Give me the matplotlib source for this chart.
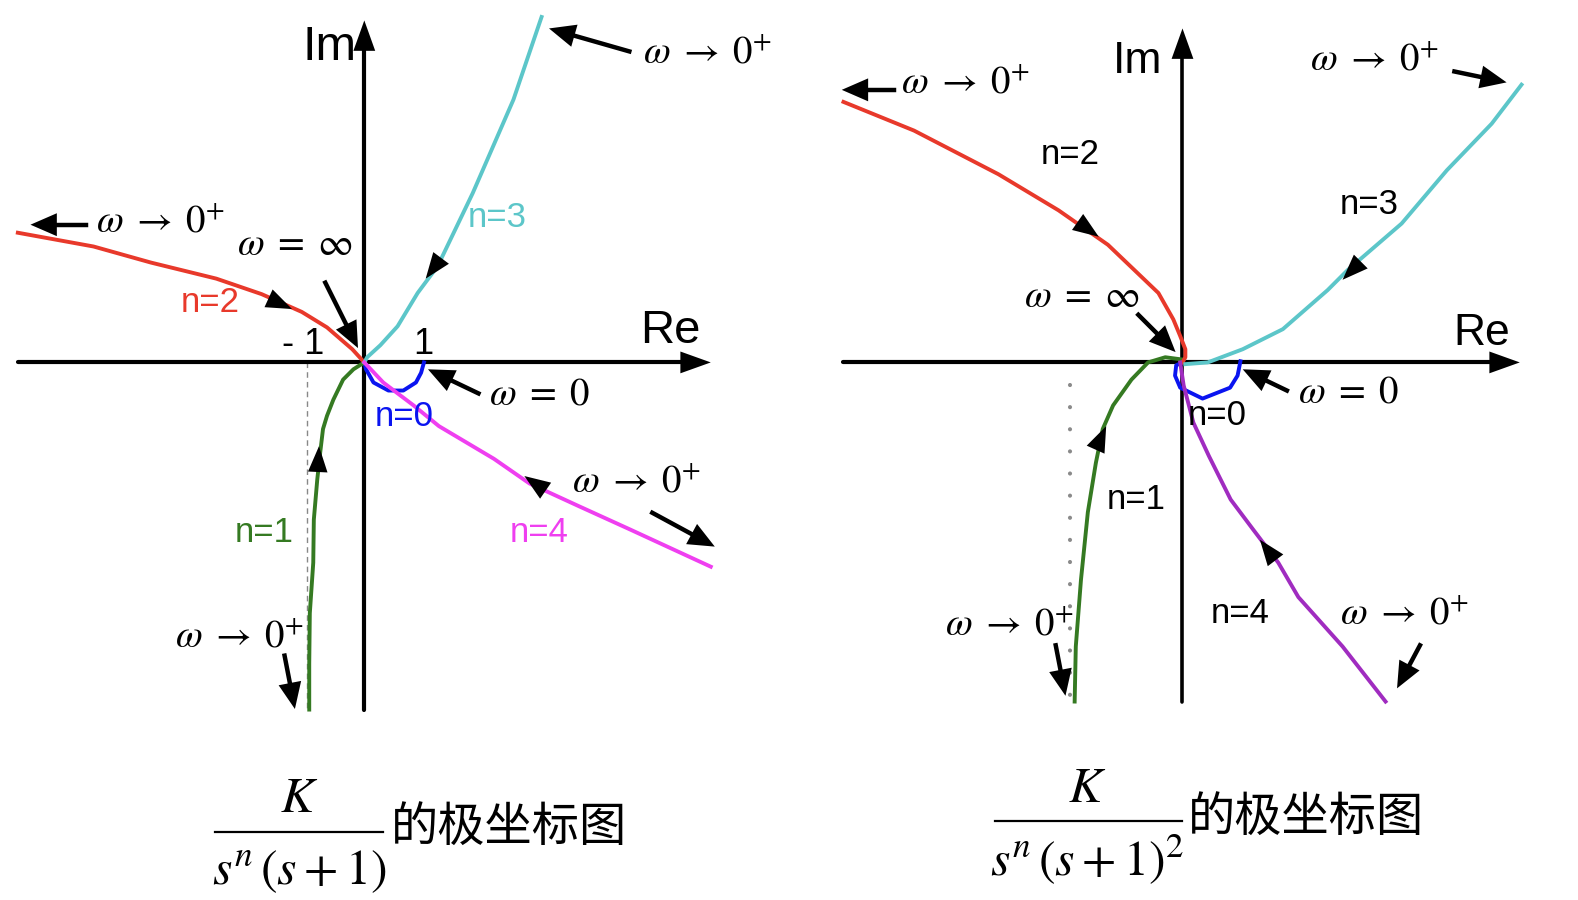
import matplotlib
matplotlib.use("Agg")
import matplotlib.pyplot as plt
from matplotlib.lines import Line2D
import numpy as np

plt.rcParams['mathtext.fontset'] = 'stix'
plt.rcParams['font.family'] = ['Liberation Sans', 'Noto Sans CJK SC', 'DejaVu Sans']

# Left panel: K / (s^n (s+1)), values in Re/Im units (1 unit = distance to "1")
l_n0_re = [0, 0.03, 0.16, 0.42, 0.68, 0.90, 0.99, 1.04]
l_n0_im = [0, -0.12, -0.35, -0.49, -0.49, -0.35, -0.18, 0]
l_n1_re = [0, -0.19, -0.37, -0.54, -0.65, -0.72, -0.77, -0.82, -0.88, -0.89, -0.95, -0.96, -0.96]
l_n1_im = [0, -0.12, -0.30, -0.65, -0.93, -1.16, -1.58, -2.04, -2.74, -3.49, -4.37, -5.25, -6.05]
l_n2_re = [-6.04, -4.72, -3.72, -2.58, -1.79, -1.09, -0.65, -0.21, 0]
l_n2_im = [2.26, 2.02, 1.74, 1.46, 1.19, 0.88, 0.61, 0.23, 0]
l_n3_re = [3.09, 2.60, 1.89, 1.28, 0.93, 0.58, 0.28, 0.05, 0]
l_n3_im = [6.02, 4.58, 2.95, 1.68, 1.21, 0.63, 0.30, 0.09, 0]
l_n4_re = [0, 0.33, 0.86, 1.30, 2.26, 2.88, 3.75, 4.63, 6.04]
l_n4_im = [0, -0.35, -0.75, -1.11, -1.68, -2.11, -2.51, -2.91, -3.56]
l_asym = -1.0

# Right panel: K / (s^n (s+1)^2)
r_n0_re = [0, -0.11, -0.13, -0.04, 0.35, 0.83, 0.96, 1.01]
r_n0_im = [0, -0.05, -0.23, -0.44, -0.63, -0.44, -0.23, 0.02]
r_n1_re = [0, -0.30, -0.60, -0.89, -1.21, -1.39, -1.51, -1.65, -1.77, -1.86, -1.88]
r_n1_im = [0.05, 0.09, 0, -0.30, -0.75, -1.16, -1.75, -2.61, -3.79, -4.95, -5.91]
r_n2_re = [-5.91, -4.68, -3.21, -2.16, -1.30, -0.42, -0.16, -0.04, 0.05, 0.05, 0]
r_n2_im = [4.54, 4.04, 3.28, 2.65, 2.05, 1.21, 0.75, 0.46, 0.23, 0.09, 0]
r_n3_re = [5.91, 5.39, 4.61, 3.82, 2.88, 2.53, 1.75, 1.05, 0.44, 0.05]
r_n3_im = [4.84, 4.16, 3.35, 2.42, 1.61, 1.26, 0.58, 0.23, 0, -0.03]
r_n4_re = [-0.04, 0.02, 0.19, 0.46, 0.84, 1.23, 1.67, 2.02, 2.79, 3.54]
r_n4_im = [0, -0.40, -1.05, -1.63, -2.39, -2.91, -3.49, -4.09, -4.95, -5.91]
r_asym = -1.96

RED, CYAN, BLUE, GREEN, MAGENTA, PURPLE = '#e8392b', '#5cc6c9', '#0a14f0', '#357a22', '#ef3ff0', '#a02cc0'
W, H = 1568, 894   # frame the layout was measured in
UNIT = 57.0        # pixels per Re/Im unit
LW = 2.8

fig = plt.figure(figsize=(15.78, 9.0), dpi=100)


def panel(x0, x1, ox, oy):
    ax = fig.add_axes([x0 / W, 1 - 720 / H, (x1 - x0) / W, 720 / H])
    ax.set_xlim((x0 - ox) / UNIT, (x1 - ox) / UNIT)
    ax.set_ylim((oy - 720) / UNIT, oy / UNIT)
    ax.axis('off')
    return ax


def head(ax, x, y, dx, dy, L=0.45, w=0.17):
    d = np.hypot(dx, dy)
    ux, uy = dx / d, dy / d
    bx, by = x - ux * L, y - uy * L
    ax.fill([x, bx - uy * w, bx + uy * w], [y, by + ux * w, by - ux * w],
            color='k', lw=0, zorder=6)


def pointer(ax, x0, y0, x1, y1, lw=3.2, L=0.46, w=0.2):
    d = np.hypot(x1 - x0, y1 - y0)
    bx, by = x1 - (x1 - x0) / d * L * 0.9, y1 - (y1 - y0) / d * L * 0.9
    ax.plot([x0, bx], [y0, by], color='k', lw=lw, zorder=6)
    head(ax, x1, y1, x1 - x0, y1 - y0, L, w)


def axes_arrows(ax, xlo, xhi, ylo, yhi, lwx=3, lwy=3):
    ax.plot([xlo, xhi - 0.4], [0, 0], color='k', lw=lwx, solid_capstyle='round', zorder=2)
    head(ax, xhi, 0, 1, 0, 0.53, 0.19)
    ax.plot([0, 0], [ylo, yhi - 0.4], color='k', lw=lwy, solid_capstyle='round', zorder=2)
    head(ax, 0, yhi, 0, 1, 0.53, 0.19)


W0 = r'$\omega\;\rightarrow\;0^{+}$'
WINF = r'$\omega\;=\;\infty$'
WZERO = r'$\omega\;=\;0$'

# ---------------- left ----------------
ax1 = panel(0, 784, 362, 360)
axes_arrows(ax1, -6.04, 6.04, -6.05, 5.96)
ax1.plot([l_asym, l_asym], [0, -6.05], color='#888888', lw=1, ls=(0, (4, 3)), zorder=1)
ax1.plot(l_n0_re, l_n0_im, color=BLUE, lw=LW, zorder=3)
ax1.plot(l_n1_re, l_n1_im, color=GREEN, lw=LW, zorder=3)
ax1.plot(l_n2_re, l_n2_im, color=RED, lw=LW, zorder=3)
ax1.plot(l_n3_re, l_n3_im, color=CYAN, lw=LW, zorder=3)
ax1.plot(l_n4_re, l_n4_im, color=MAGENTA, lw=LW, zorder=3)

head(ax1, -1.26, 0.93, 0.70, -0.32)
head(ax1, 1.07, 1.46, -0.35, -0.47)
head(ax1, 2.79, -1.98, -0.61, 0.42)
head(ax1, -0.79, -1.46, 0.02, 0.42)

pointer(ax1, -4.86, 2.40, -5.82, 2.40)
pointer(ax1, -0.68, 1.39, -0.11, 0.25)
pointer(ax1, 4.62, 5.42, 3.22, 5.82)
pointer(ax1, 1.99, -0.54, 1.11, -0.12)
pointer(ax1, 5.02, -2.62, 6.11, -3.21)
pointer(ax1, -1.39, -5.11, -1.21, -6.04)

ax1.text(-0.61, 5.49, 'Im', fontsize=35, ha='center', va='center')
ax1.text(5.33, 0.54, 'Re', fontsize=34, ha='center', va='center')
ax1.text(-1.07, 0.32, '- 1', fontsize=26, ha='center', va='center')
ax1.text(1.02, 0.32, '1', fontsize=26, ha='center', va='center')
ax1.text(-2.68, 1.05, 'n=2', fontsize=25, color=RED, ha='center', va='center')
ax1.text(2.32, 2.53, 'n=3', fontsize=25, color=CYAN, ha='center', va='center')
ax1.text(0.70, -0.95, 'n=0', fontsize=25, color=BLUE, ha='center', va='center')
ax1.text(-1.74, -2.96, 'n=1', fontsize=25, color=GREEN, ha='center', va='center')
ax1.text(3.04, -2.96, 'n=4', fontsize=25, color=MAGENTA, ha='center', va='center')
ax1.text(-4.68, 2.46, W0, fontsize=28, ha='left', va='center')
ax1.text(-1.21, 2.04, WINF, fontsize=28, ha='center', va='center')
ax1.text(5.98, 5.40, W0, fontsize=28, ha='center', va='center')
ax1.text(3.05, -0.56, WZERO, fontsize=28, ha='center', va='center')
ax1.text(4.75, -2.07, W0, fontsize=28, ha='center', va='center')
ax1.text(-2.18, -4.77, W0, fontsize=28, ha='center', va='center')

# ---------------- right ----------------
ax2 = panel(790, 1568, 1175, 360)
axes_arrows(ax2, -5.91, 5.88, -5.91, 5.82, lwy=2.6)
ax2.plot([r_asym, r_asym], [-0.39, -5.91], color='#8a8a8a', lw=3,
         ls=(0, (0.01, 5.3)), dash_capstyle='round', zorder=1)
ax2.plot(r_n0_re, r_n0_im, color=BLUE, lw=LW, zorder=3)
ax2.plot(r_n1_re, r_n1_im, color=GREEN, lw=LW, zorder=3)
ax2.plot(r_n2_re, r_n2_im, color=RED, lw=LW, zorder=3)
ax2.plot(r_n3_re, r_n3_im, color=CYAN, lw=LW, zorder=3)
ax2.plot(r_n4_re, r_n4_im, color=PURPLE, lw=LW, zorder=3)

head(ax2, -1.46, 2.19, 0.86, -0.60)
head(ax2, 2.79, 1.44, -0.35, -0.35)
head(ax2, -1.33, -1.11, 0.18, 0.40)
head(ax2, 1.35, -3.09, -0.44, 0.58)

pointer(ax2, -5.03, 4.75, -5.94, 4.75)
pointer(ax2, 4.74, 5.07, 5.65, 4.88)
pointer(ax2, -0.77, 0.83, -0.12, 0.18)
pointer(ax2, 1.82, -0.49, 1.05, -0.12)
pointer(ax2, -2.21, -4.93, -2.04, -5.81)
pointer(ax2, 4.14, -4.93, 3.74, -5.68)

ax2.text(-0.79, 5.25, 'Im', fontsize=32, ha='center', va='center')
ax2.text(5.21, 0.51, 'Re', fontsize=32, ha='center', va='center')
ax2.text(-1.95, 3.63, 'n=2', fontsize=25, ha='center', va='center')
ax2.text(3.26, 2.75, 'n=3', fontsize=25, ha='center', va='center')
ax2.text(0.60, -0.93, 'n=0', fontsize=25, ha='center', va='center')
ax2.text(-0.81, -2.39, 'n=1', fontsize=25, ha='center', va='center')
ax2.text(1.00, -4.37, 'n=4', fontsize=25, ha='center', va='center')
ax2.text(-3.79, 4.88, W0, fontsize=28, ha='center', va='center')
ax2.text(3.35, 5.28, W0, fontsize=28, ha='center', va='center')
ax2.text(-1.75, 1.14, WINF, fontsize=28, ha='center', va='center')
ax2.text(2.89, -0.53, WZERO, fontsize=28, ha='center', va='center')
ax2.text(-3.02, -4.56, W0, fontsize=28, ha='center', va='center')
ax2.text(3.86, -4.37, W0, fontsize=28, ha='center', va='center')


# ---------------- captions ----------------
def caption(cx, ky, ly, x0, x1, dy, denom, hx, hy):
    fig.text(cx / W, 1 - ky / H, r'$K$', fontsize=36, ha='center', va='center')
    fig.add_artist(Line2D([x0 / W, x1 / W], [1 - ly / H, 1 - ly / H], color='k', lw=1.6))
    fig.text(cx / W, 1 - dy / H, denom, fontsize=36, ha='center', va='center')
    fig.text(hx / W, 1 - hy / H, '的极坐标图', fontsize=34, ha='left', va='center',
             family=['Noto Sans CJK SC', 'DejaVu Sans'])


caption(297, 794, 826.5, 214, 381, 866, r'$s^{n}\,(s+1)$', 388, 822)
caption(1080, 784, 815.5, 989, 1175, 854, r'$s^{n}\,(s+1)^{2}$', 1180, 812)

fig.savefig('out.png', dpi=100)
